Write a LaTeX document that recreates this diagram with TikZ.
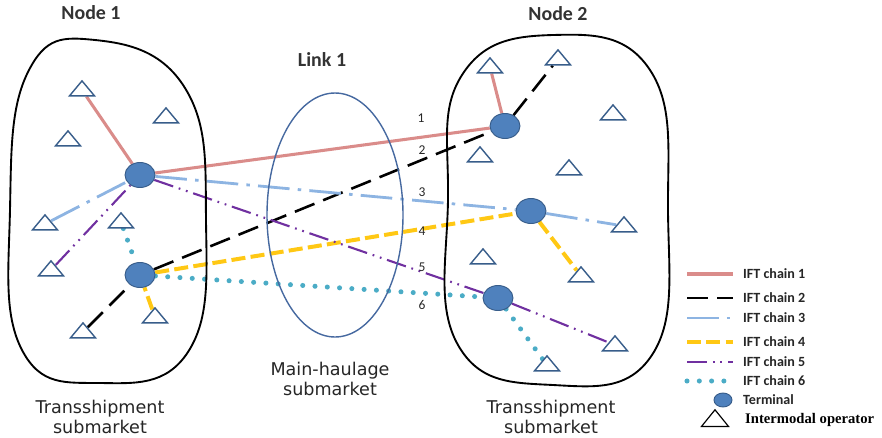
\documentclass[tikz,border=0pt]{standalone}
\usepackage{fontspec}
\setmainfont{Carlito}
\newfontfamily\labelfont{DejaVu Sans}
\newfontfamily\opfont{Liberation Serif}
\usetikzlibrary{shapes.geometric}
\definecolor{chainpink}{RGB}{218,140,138}
\definecolor{chainblue}{RGB}{141,180,226}
\definecolor{chainyellow}{RGB}{255,200,20}
\definecolor{chainpurple}{RGB}{112,48,160}
\definecolor{chaincyan}{RGB}{75,172,198}
\definecolor{termfill}{RGB}{79,129,189}
\definecolor{termline}{RGB}{56,93,138}
\definecolor{linkblue}{RGB}{70,105,160}
\pgfdeclarelayer{bg}
\pgfsetlayers{bg,main}
\tikzset{
    terminal/.style={ellipse, draw=termline, fill=termfill, line width=0.8pt,
        minimum width=0.9cm, minimum height=0.75cm, inner sep=0pt},
    intermodal/.style={isosceles triangle, isosceles triangle stretches,
        shape border rotate=90, draw=termline, fill=white, line width=1.2pt,
        minimum width=0.75cm, minimum height=0.45cm, inner sep=0pt},
    chain1/.style={chainpink, line width=2.6pt},
    chain2/.style={black, line width=2.2pt, dash pattern=on 18pt off 8pt},
    chain3/.style={chainblue, line width=2.4pt, dash pattern=on 27pt off 7pt on 3pt off 7pt},
    chain4/.style={chainyellow, line width=3.4pt, dash pattern=on 12pt off 4.5pt},
    chain5/.style={chainpurple, line width=1.8pt,
        dash pattern=on 17pt off 5pt on 1.5pt off 5pt on 1.5pt off 5pt},
    chain6/.style={chaincyan, line width=4.3pt, line cap=round, dash pattern=on 0pt off 10.5pt},
    region/.style={black, line width=1.6pt},
    heading/.style={font=\fontsize{17}{20}\selectfont\bfseries, text=black!80},
    sublabel/.style={font=\labelfont\fontsize{15}{16.5}\selectfont, align=center, text=black!85},
    num/.style={font=\fontsize{11.5}{13}\selectfont, text=black!85},
    legend/.style={font=\fontsize{12}{14}\selectfont\bfseries, text=black!85, anchor=west, inner sep=0pt},
}

\begin{document}
\begin{tikzpicture}[x=0.03cm, y=-0.03cm]
\useasboundingbox (0,0) rectangle (882,437);

% regions
\draw[region] plot[smooth cycle, tension=0.75] coordinates {(10,210) (28,72) (95,40) (185,88) (206,220) (188,352) (100,383) (22,350)};
\draw[region] plot[smooth cycle, tension=0.75] coordinates {(448,200) (462,75) (553,35) (650,70) (668,210) (652,355) (553,385) (458,345)};
\draw[linkblue, line width=1.2pt] (335,215) ellipse [x radius=68, y radius=122];

% titles
\node[heading] (node1) at (91,13) {Node 1};
\node[heading] (node2) at (558,14) {Node 2};
\node[heading] (link1) at (322,60) {Link 1};
\node[sublabel] (sub1) at (100,417) {Transshipment\\submarket};
\node[sublabel] (sub2) at (551,417) {Transshipment\\submarket};
\node[sublabel] (sub3) at (330,379) {Main-haulage\\submarket};

% terminals
\node[terminal] (t1) at (140,175) {};
\node[terminal] (t2) at (140,275) {};
\node[terminal] (t3) at (505,126) {};
\node[terminal] (t4) at (531,211) {};
\node[terminal] (t5) at (498,298) {};

% operators in node 1
\node[intermodal] (a1) at (82,90) {};
\node[intermodal] (a2) at (166,117) {};
\node[intermodal] (a3) at (68,140) {};
\node[intermodal] (a4) at (45,224) {};
\node[intermodal] (a5) at (121,222) {};
\node[intermodal] (a6) at (51,270) {};
\node[intermodal] (a7) at (83,332) {};
\node[intermodal] (a8) at (155,317) {};

% operators in node 2
\node[intermodal] (b1) at (490,67) {};
\node[intermodal] (b2) at (558,59) {};
\node[intermodal] (b3) at (613,114) {};
\node[intermodal] (b4) at (480,156) {};
\node[intermodal] (b5) at (569,169) {};
\node[intermodal] (b6) at (624,226) {};
\node[intermodal] (b7) at (483,258) {};
\node[intermodal] (b8) at (581,276) {};
\node[intermodal] (b9) at (615,345) {};
\node[intermodal] (b10) at (547,365) {};

% chain numbers
\node[num] (n1) at (421,118) {1};
\node[num] (n2) at (422,150) {2};
\node[num] (n3) at (422,192) {3};
\node[num] (n4) at (422,231) {4};
\node[num] (n5) at (422,267) {5};
\node[num] (n6) at (422,305) {6};

% chains
\begin{pgfonlayer}{bg}
\draw[chain1] (a1) -- (t1) -- (t3) -- (b1);
\draw[chain2] (a7) -- (t2) -- (t3) -- (b2);
\draw[chain3] (a4) -- (t1) -- (t4) -- (b6);
\draw[chain4] (a8) -- (t2) -- (t4) -- (b8);
\draw[chain5] (a6) -- (t1) -- (t5) -- (b9);
\draw[chain6] (a5) -- (t2) -- (t5) -- (b10);
\end{pgfonlayer}

% legend
\draw[chain1] (687,274) -- (733,274);
\draw[chain2] (687,298) -- (733,298);
\draw[chain3] (687,318) -- (733,318);
\draw[chain4] (687,342) -- (733,342);
\draw[chain5] (687,362) -- (733,362);
\draw[chain6] (687,381) -- (733,381);
\node[legend] (leg1) at (743,274) {IFT chain 1};
\node[legend] (leg2) at (743,298) {IFT chain 2};
\node[legend] (leg3) at (743,318) {IFT chain 3};
\node[legend] (leg4) at (743,342) {IFT chain 4};
\node[legend] (leg5) at (743,362) {IFT chain 5};
\node[legend] (leg6) at (743,381) {IFT chain 6};
\node[terminal, minimum width=0.54cm, minimum height=0.42cm] (legt) at (723,400) {};
\node[legend] (leg7) at (743,400) {Terminal};
\node[intermodal, draw=black, line width=1pt, minimum width=0.81cm, minimum height=0.5cm] (lego) at (715,420) {};
\node[legend, font=\opfont\fontsize{12.5}{14}\selectfont\bfseries, text=black] (leg8) at (745,420) {Intermodal operator};

\end{tikzpicture}
\end{document}
